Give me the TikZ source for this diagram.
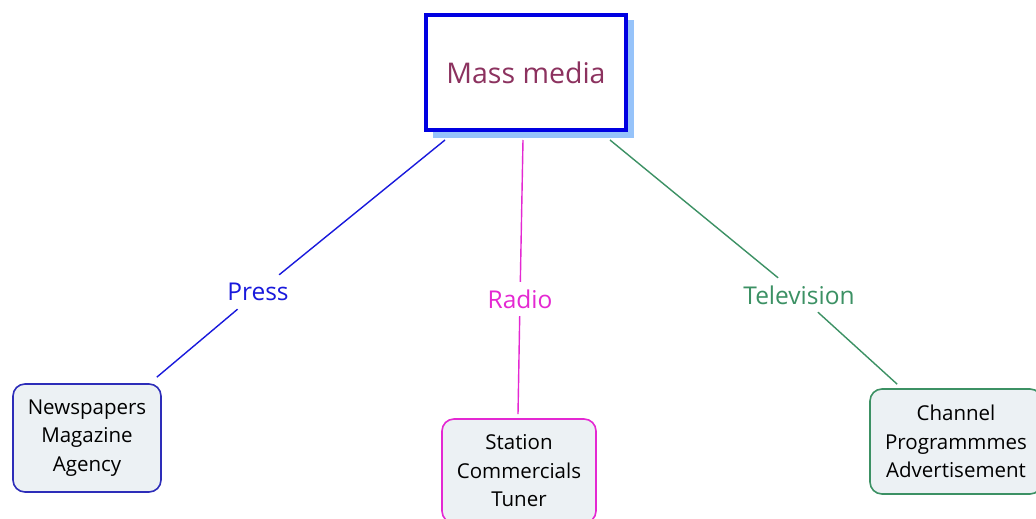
\documentclass[tikz,border=0pt]{standalone}
\usepackage{fontspec}
\setmainfont{Open Sans}
\usetikzlibrary{calc}
\definecolor{mmblue}{RGB}{0,0,225}
\definecolor{mmshadow}{RGB}{150,195,250}
\definecolor{mmtext}{RGB}{140,50,95}
\definecolor{pressc}{RGB}{25,25,220}
\definecolor{pressbox}{RGB}{45,45,185}
\definecolor{radioc}{RGB}{228,40,210}
\definecolor{tvc}{RGB}{60,145,100}
\definecolor{leaffill}{RGB}{236,241,244}
\tikzset{
  root/.style={draw=mmblue, line width=4pt, fill=white, minimum width=200pt, minimum height=115pt, text=mmtext, font=\fontsize{28.5}{32}\selectfont, inner sep=0pt},
  leaf/.style={rounded corners=12pt, line width=1.6pt, fill=leaffill, align=center, font=\fontsize{20.5}{28.5}\selectfont, inner sep=0pt, text=black},
  lbl/.style={inner xsep=4pt, minimum height=34pt, font=\fontsize{24.5}{28}\selectfont},
  conn/.style={line width=1.4pt}
}
\begin{document}
\begin{tikzpicture}[x=1pt,y=-1pt]
\clip (0,0) rectangle (1036,519);
\fill[white] (0,0) rectangle (1036,519);
% shadow
\fill[mmshadow] (433,20) rectangle (634,138);
\node[root] (mm) at (526,72.5) {Mass media};
\node[leaf, draw=pressbox, minimum width=148pt, minimum height=108pt] (np) at (87,438) {Newspapers\\Magazine\\Agency};
\node[leaf, draw=radioc, minimum width=154pt, minimum height=104pt] (st) at (519,471) {Station\\Commercials\\Tuner};
\node[leaf, draw=tvc, minimum width=172pt, minimum height=105pt] (ch) at (956,441.5) {Channel\\Programmmes\\Advertisement};
\node[lbl, text=pressc] (lp) at (258,292) {Press};
\node[lbl, text=radioc] (lr) at (520,299) {Radio};
\node[lbl, text=tvc] (lt) at (799,295) {Television};
\draw[conn, pressc] ($(mm.south west)+(21,8)$) -- (lp) -- ($(np.north east)+(-5,-6)$);
\draw[conn, radioc] ($(mm.south)+(-3,8)$) -- (lr) -- ($(st.north)+(-1,-4)$);
\draw[conn, tvc] ($(mm.south)+(84,8)$) -- (lt) -- ($(ch.north west)+(28,-4)$);
\end{tikzpicture}
\end{document}
